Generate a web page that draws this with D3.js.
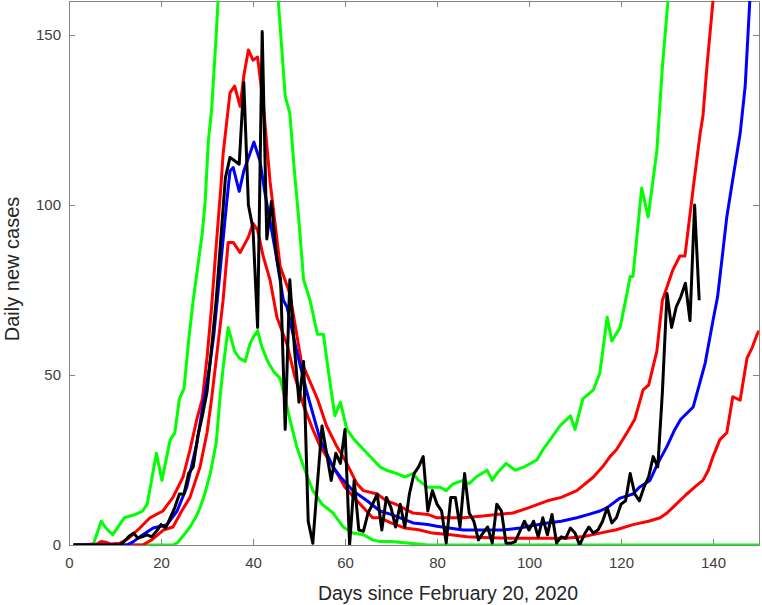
<!DOCTYPE html>
<html>
<head>
<meta charset="utf-8">
<script src="https://cdn.jsdelivr.net/npm/d3@7"></script>
<style>
  body { margin: 0; background: #fff; }
  text { font-family: "Liberation Sans", Arial, Helvetica, sans-serif; }
</style>
</head>
<body>
<div id="chart"></div>
<script>
// x ticks / y ticks
var xTicks = [0, 20, 40, 60, 80, 100, 120, 140]
var yTicks = [0, 50, 100, 150]

// observed daily cases, day 1 .. 137
var obsStart = 1
var observed = [0,0,0,0,0,0,0,0,0,0,0,
  1,2.5,3.5,2,2.5,3,2.4,4,6,5,8,11,15,15,21,23,32,38,45,58,72,90,108,114,113,112,136,100,93,64,151,90,101,86,78,34,78,58,42,54,7,0.5,18,35,27,19,27,24,34,0,19,4.4,4,9.4,12,15,4.4,14,11,5.3,12,5.3,15,21,23,26,10,16,12,10,0.6,14,14,5.3,21,9.4,7,1.5,3.5,5.3,0.6,12,10,0.6,0.5,1,4,7,4.4,7,2.4,8,3,9,0.6,2.4,2,5,3.5,0,3,5.3,3.5,4.4,7,11,6.5,8,12,13,21,15,13,17,20,26,23,45,74,64,70,73,77,66,100,72]

// model median (blue) as [day, value]
var median = [[1,0],[12.6,0],[14,1],[15.4,2.4],[18.3,5],[20,5.5],[21.3,6],[23.5,10],[25.6,17],[27.8,30],[29,40],[30.5,52],[31.5,62],[32.8,80],[34.3,101],[35,110],[35.7,111],[37,104],[38,110],[39.3,115],[40.2,118.5],[41.5,113],[42.6,103.5],[44.8,87],[46.6,72],[47.4,70],[49.5,57],[51.7,45],[54.6,31],[57.4,23],[59,20],[61.7,16],[64.8,13],[67.6,10],[70,9],[74.8,6.5],[78,6],[80,5.5],[85.7,4.4],[90,4.4],[94.3,4.4],[98,5],[100,5.5],[104,6.5],[107,7],[110.4,8],[113,9],[115.4,10],[117,11],[119.8,13.8],[122.6,15],[124,17],[126.3,19],[128,24],[130,29],[131.7,34],[133,37],[135.7,40.6],[137,47],[138.3,53.5],[140,66],[141,73],[142.2,87],[143,96.5],[144,105],[145.9,121],[147,135],[148,160],[149,185]]

// inner band (red)
var redUpper = [[1,0],[6,0.3],[7,1],[8,0.8],[9,0.3],[11,0.5],[13,2],[15.4,5],[17.6,8],[20.4,10],[22.6,14],[24.8,20],[26.3,28],[27.8,37],[29,43],[30,55],[31,70],[32,88],[33,105],[33.5,115],[35,133],[36,135],[37.2,129],[38,138],[39,145.6],[40,142.6],[41,143.5],[42.2,130],[43.7,107],[45.9,82],[48,74],[50.5,54],[54,43],[56,35],[58.2,29],[60,25],[62.6,18],[64,16],[67,15],[69,13],[71,12],[74.8,9.4],[78,9],[80,8],[85.7,8],[90,8.5],[93,9],[96.5,9.4],[100,11],[104,13],[107,14],[110.4,16],[114,20],[116,23],[117.6,26],[119,28],[121.3,33],[123,37],[124.8,45.6],[126,47],[127.8,57],[129,72],[131.3,81],[132.8,85],[133.9,85],[135.7,105],[137.2,121],[137.8,126],[138.7,141],[140,160],[141,180]]
var redLower = [[1,0],[16,0],[18,1.5],[20.5,4.4],[22.6,5.3],[24.5,10],[26.3,14],[28.5,23],[30,33],[31,43],[32.3,58],[33.5,72],[34.6,89],[35.7,89],[37.2,86],[39,90.6],[40,94.6],[41,92.6],[42.2,85],[43.7,78],[45.2,67],[47.4,59],[49,50],[51,41],[53,34],[54.6,29],[56.5,25],[58.3,21],[60,17],[62.6,13],[64,11],[66,8],[67.6,8],[70,6.5],[73,5],[76,4.5],[79,3.5],[83,3],[86.5,2.4],[90,2.2],[95.9,2],[100,2],[104,2],[108,2],[112,2.5],[115.4,3.5],[119,4.5],[122.6,6],[126,7],[128.5,8],[130,9.4],[132,12],[134.3,15],[136,17],[137.8,19],[139,22],[140,26],[141.5,31],[143,33],[144.3,43.6],[145.9,42.6],[147.4,55],[148.5,58],[149.6,62],[150,63]]

// outer band (green)
var greenUpper = [[1,0],[5,0],[5.5,1],[7,7],[8,5],[9.5,3],[11,6],[12,8],[14.5,9],[16,10],[17,12],[19,27],[20.2,19],[22,31],[23,33],[24,43],[25,46],[26,60],[27,72],[28,82],[29,92],[29.6,101],[30.3,119],[31,128],[32,150],[33,175],[35,220],[40,260],[44,190],[45.5,160],[47,132],[48,127],[49,110],[50,95],[51,78],[52.4,72],[54,62],[55.3,62],[56.5,50],[57.8,38],[59,42],[60.4,34],[62,31],[64.8,27],[67.6,23],[69,22],[71.3,21],[73,20],[74.8,21],[76,19],[78,17],[80.7,17],[82,16],[83.5,18],[85.7,19],[87,18],[88.5,20],[90.9,22],[92,19],[93,21],[95,24],[97,22],[99,23],[101.7,25],[103,28],[104.6,31],[106.7,35],[109,38],[110,34],[111.7,43],[114,45.6],[115.4,50.6],[117,67],[118,60],[119.8,64],[121.3,74],[122,79],[122.6,79],[124.5,105],[125.9,96.5],[127.8,116],[129,140.6],[130.2,160],[131,180]]
var greenLower = [[1,0],[22.5,0],[23.5,0.6],[25,3],[26.3,5.3],[27.5,8],[28.5,11],[29.5,15],[30.7,21],[32,30],[32.8,43],[33.5,52],[34.6,64],[36,57],[37,55],[38.3,54],[39.3,59],[40,61],[41,63],[42,58],[43.2,54],[44.5,51],[45.9,49],[47,43],[48,37],[49.5,29],[51,23],[53,16],[55,12],[57.4,9.4],[59.6,5.3],[61.7,3.5],[64,3],[66,1.5],[67.6,1],[70,1],[74,0.5],[78,0],[150,0]]

var W = 762, H = 605
var margin = {top: 1, right: 3, bottom: 60, left: 69},
    width = W - margin.left - margin.right,
    height = H - margin.top - margin.bottom

var svg = d3.select("#chart")
  .append("svg")
    .attr("width", W)
    .attr("height", H)
  .append("g")
    .attr("transform", "translate(" + margin.left + "," + margin.top + ")")

var x = d3.scaleLinear().domain([0, 150]).range([0, width])
var y = d3.scaleLinear().domain([0, 160]).range([height, 0])

svg.append("clipPath").attr("id", "clip")
  .append("rect").attr("x", 0).attr("y", 0).attr("width", width).attr("height", height)

var axisCol = "#858585"

// axes with inward ticks, box all round
function styleAxis(g) {
  g.select(".domain").attr("stroke", axisCol)
  g.selectAll(".tick line").attr("stroke", axisCol)
  g.selectAll(".tick text").attr("fill", "#404040").style("font-size", "15px")
}
svg.append("g")
  .attr("transform", "translate(0," + height + ")")
  .call(d3.axisBottom(x).tickValues(xTicks).tickSizeInner(-6).tickSizeOuter(0).tickPadding(12))
  .call(styleAxis)
svg.append("g")
  .call(d3.axisTop(x).tickValues(xTicks).tickSizeInner(-6).tickSizeOuter(0).tickFormat(""))
  .call(styleAxis)
svg.append("g")
  .call(d3.axisLeft(y).tickValues(yTicks).tickSizeInner(-6).tickSizeOuter(0).tickPadding(8))
  .call(styleAxis)
svg.append("g")
  .attr("transform", "translate(" + width + ",0)")
  .call(d3.axisRight(y).tickValues(yTicks).tickSizeInner(-6).tickSizeOuter(0).tickFormat(""))
  .call(styleAxis)

var line = d3.line().x(d => x(d[0])).y(d => y(d[1]))

var lines = svg.append("g").attr("clip-path", "url(#clip)")
var series = [
  {data: greenUpper, color: "#00ff00"},
  {data: greenLower, color: "#00ff00"},
  {data: redUpper, color: "#ff0000"},
  {data: redLower, color: "#ff0000"},
  {data: median, color: "#0000ff"},
  {data: observed.map((v, i) => [obsStart + i, v]), color: "#000000"}
]
lines.selectAll("path")
  .data(series)
  .enter()
  .append("path")
    .attr("d", d => line(d.data))
    .attr("fill", "none")
    .attr("stroke", d => d.color)
    .attr("stroke-width", 3)
    .attr("stroke-linejoin", "round")

// labels
svg.append("text")
  .attr("x", 379)
  .attr("y", 599)
  .attr("text-anchor", "middle")
  .attr("fill", "#262626")
  .style("font-size", "19.5px")
  .text("Days since February 20, 2020")

svg.append("text")
  .attr("transform", "translate(-50," + 268 + ")rotate(-90)")
  .attr("text-anchor", "middle")
  .attr("fill", "#262626")
  .style("font-size", "20px")
  .text("Daily new cases")
</script>
</body>
</html>
